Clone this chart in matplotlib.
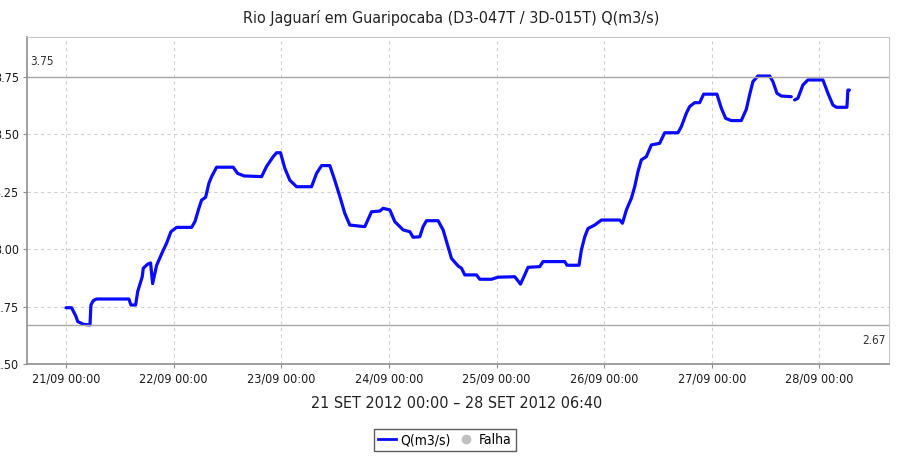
import numpy as np
import matplotlib
matplotlib.use('Agg')
import matplotlib.pyplot as plt
import matplotlib.dates as mdates
from matplotlib.lines import Line2D

# hours since 21/09/2012 00:00 and discharge Q (m3/s)
hours = [0.0, 1.27, 1.63, 2.16, 2.61, 3.86, 5.35, 5.57, 6.08, 6.84, 14.04, 14.48,
         15.53, 15.98, 17.00, 17.23, 18.21, 18.87, 19.32, 20.21, 21.33, 22.44,
         23.40, 24.67, 28.01, 28.75, 29.64, 30.24, 31.13, 31.87, 32.47, 33.58,
         37.28, 38.26, 39.73, 43.61, 44.72, 46.20, 46.95, 47.84, 48.80, 49.92,
         51.41, 54.75, 55.87, 56.98, 58.83, 59.94, 61.06, 62.17, 63.29, 66.63,
         68.12, 69.97, 70.71, 72.20, 73.31, 75.16, 76.66, 77.39, 78.89, 79.62,
         80.38, 82.96, 84.08, 85.19, 85.95, 87.42, 88.18, 88.91, 91.52, 92.26,
         94.86, 96.34, 100.06, 101.33, 102.28, 103.02, 105.63, 106.37, 111.20,
         111.71, 114.39, 114.92, 115.66, 116.39, 117.88, 119.38, 123.45, 124.06,
         124.95, 126.06, 126.80, 127.53, 128.29, 129.40, 130.52, 132.37, 133.48,
         136.45, 137.20, 138.32, 139.05, 140.17, 141.28, 142.17, 145.14, 146.12,
         147.07, 148.34, 150.57, 151.68, 152.42, 153.16, 154.27, 156.88, 157.62,
         158.51, 159.49, 161.72, 161.9, 162.45, 163.19, 164.30, 165.42, 168.76,
         169.88, 170.99, 171.75, 174.11, 174.33, 174.67]
q = [2.745, 2.745, 2.73, 2.71, 2.685, 2.673, 2.67, 2.757, 2.776, 2.783, 2.783, 2.757,
     2.757, 2.815, 2.88, 2.917, 2.935, 2.94, 2.85, 2.93, 2.98, 3.026,
     3.076, 3.095, 3.095, 3.12, 3.178, 3.214, 3.226, 3.287, 3.316, 3.357,
     3.357, 3.33, 3.319, 3.316, 3.36, 3.403, 3.42, 3.42, 3.352, 3.30,
     3.272, 3.272, 3.33, 3.364, 3.364, 3.30, 3.229, 3.156, 3.105, 3.098,
     3.163, 3.166, 3.178, 3.171, 3.12, 3.084, 3.076, 3.052, 3.054, 3.098,
     3.124, 3.124, 3.084, 3.011, 2.96, 2.927, 2.917, 2.888, 2.888, 2.869,
     2.869, 2.878, 2.88, 2.848, 2.888, 2.921, 2.924, 2.946, 2.946,
     2.93, 2.93, 2.997, 3.054, 3.09, 3.105, 3.127, 3.127, 3.113,
     3.171, 3.222, 3.272, 3.338, 3.389, 3.403, 3.454, 3.461, 3.507,
     3.507, 3.534, 3.592, 3.621, 3.638, 3.638, 3.675, 3.675, 3.614,
     3.57, 3.56, 3.56, 3.609, 3.672, 3.73, 3.754, 3.754, 3.73,
     3.679, 3.667, 3.664, np.nan, 3.65, 3.657, 3.715, 3.737, 3.737,
     3.679, 3.628, 3.618, 3.618, 3.693, 3.693]
q_max = 3.75
q_min = 2.67
title = 'Rio Jaguarí em Guaripocaba (D3-047T / 3D-015T) Q(m3/s)'
period = '21 SET 2012 00:00 – 28 SET 2012 06:40'

start = np.datetime64('2012-09-21T00:00')
times = start + (np.array(hours) * 60).round().astype('timedelta64[m]')
times = times.astype('datetime64[ms]').astype(object)

fig = plt.figure(figsize=(9.01, 4.58), dpi=100)
ax = fig.add_axes([27 / 901, 94 / 458, 862 / 901, 327 / 458])

ax.plot(times, q, color='#0a0aff', lw=2.3, solid_capstyle='round')
ax.axhline(q_max, color='#a8a8a8', lw=1.0)
ax.axhline(q_min, color='#a8a8a8', lw=1.0)

ax.set_ylim(2.50, 3.924)
t0 = mdates.date2num(start.astype('datetime64[ms]').astype(object))
ax.set_xlim(t0 - 8.69 / 24, t0 + 183.5 / 24)
ax.set_yticks([2.50, 2.75, 3.00, 3.25, 3.50, 3.75])
ax.yaxis.set_major_formatter(matplotlib.ticker.FormatStrFormatter('%.2f'))
ax.xaxis.set_major_locator(mdates.DayLocator())
ax.xaxis.set_major_formatter(mdates.DateFormatter('%d/%m %H:%M'))

ax.grid(True, color='#d0d0d0', ls=(0, (3, 3)), lw=0.8)
ax.set_axisbelow(True)
for s in ['top', 'right']:
    ax.spines[s].set_color('#c8c8c8')
for s in ['left', 'bottom']:
    ax.spines[s].set_color('#909090')
    ax.spines[s].set_linewidth(1.2)
ax.tick_params(length=3, color='#909090', labelsize=9, pad=3)
for lab in ax.get_xticklabels() + ax.get_yticklabels():
    lab.set_fontstretch('condensed')
    lab.set_color('#1a1a1a')

ax.text(0.004, q_max + 0.04, '3.75', transform=ax.get_yaxis_transform(),
        fontsize=8.5, fontstretch='condensed', color='#333333', va='bottom')
ax.text(0.996, q_min - 0.04, '2.67', transform=ax.get_yaxis_transform(),
        fontsize=8.5, fontstretch='condensed', color='#333333', va='top', ha='right')

fig.text(451 / 901, 1 - 18 / 458, title, ha='center', va='center', fontsize=11.5,
         fontstretch='condensed', color='#222222')
fig.text(457 / 901, 1 - 403 / 458, period, ha='center', va='center', fontsize=11.5,
         fontstretch='condensed', color='#222222')

handles = [Line2D([], [], color='#0a0aff', lw=2),
           Line2D([], [], color='#c0c0c0', marker='o', ls='none', markersize=6)]
leg = fig.legend(handles, ['Q(m3/s)', 'Falha'], loc='center',
                 bbox_to_anchor=(445 / 901, 1 - 440 / 458), ncol=2, frameon=True,
                 fancybox=False, edgecolor='#333333',
                 handlelength=1.3, handletextpad=0.3, columnspacing=0.4,
                 borderpad=0.3, prop={'stretch': 'condensed', 'size': 10})
leg.get_frame().set_linewidth(1.0)

fig.savefig('out.png', dpi=100)
